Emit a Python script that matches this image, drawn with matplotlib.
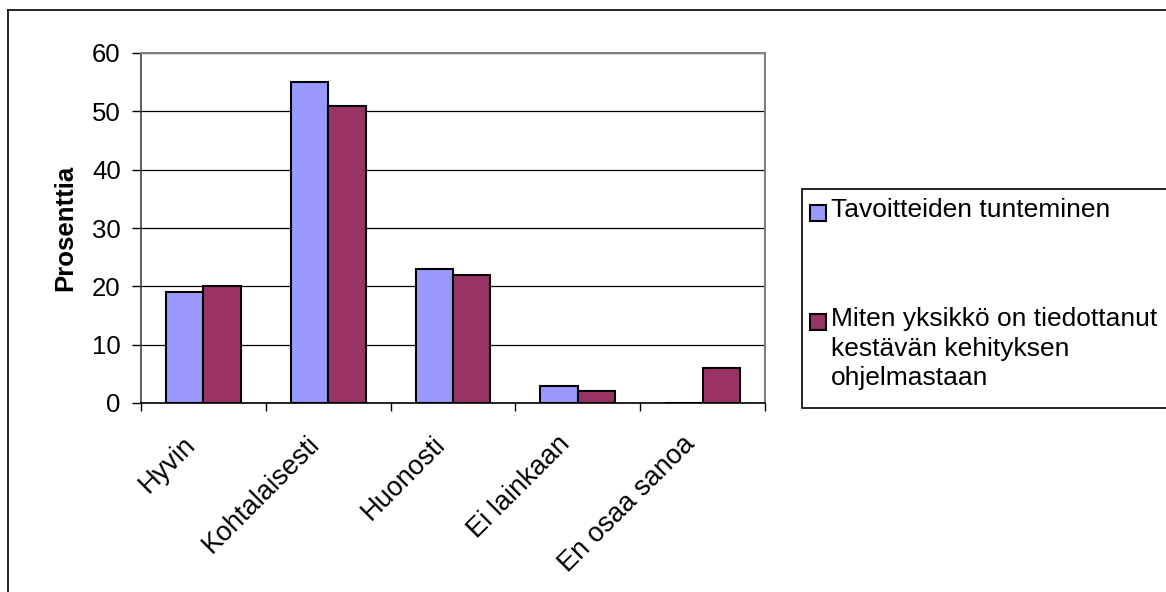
import matplotlib
matplotlib.use("Agg")
import matplotlib.pyplot as plt
from matplotlib.patches import Rectangle
from matplotlib.lines import Line2D
import matplotlib.transforms as mtransforms
import numpy as np

plt.rcParams['font.family'] = ['Liberation Sans', 'DejaVu Sans']

categories = ['Hyvin', 'Kohtalaisesti', 'Huonosti', 'Ei lainkaan', 'En osaa sanoa']
tavoitteet = [19, 55, 23, 3, 0]
tiedottanut = [20, 51, 22, 2, 6]
series_names = ['Tavoitteiden tunteminen',
                'Miten yksikkö on tiedottanut\nkestävän kehityksen\nohjelmastaan']
colors = ['#9999FF', '#993366']

W, H = 1166, 592
fig = plt.figure(figsize=(W / 100, H / 100), dpi=100)
ax = fig.add_axes([141 / W, 1 - 403 / H, (765 - 141) / W, (403 - 53) / H])

x = np.arange(len(categories))
bw = 0.3
ax.bar(x - bw / 2, tavoitteet, bw, color=colors[0], edgecolor='black', linewidth=1.5, zorder=3)
ax.bar(x + bw / 2, tiedottanut, bw, color=colors[1], edgecolor='black', linewidth=1.5, zorder=3)

ax.set_xlim(-0.5, len(categories) - 0.5)
ax.set_ylim(0, 60)
ax.set_yticks(range(0, 61, 10))
ax.yaxis.grid(True, color='black', linewidth=0.9, zorder=0)
ax.tick_params(axis='y', labelsize=18.5, length=6.5, width=1, direction='out', pad=8)

ax.set_xticks(x)
ax.set_xticks(np.arange(-0.5, len(categories)), minor=True)
ax.tick_params(axis='x', which='major', length=0, pad=14)
ax.tick_params(axis='x', which='minor', length=6, width=1, direction='out')
ax.set_xticklabels(categories, rotation=45, ha='right', va='center',
                   rotation_mode='anchor', fontsize=19.5)
offset = mtransforms.ScaledTranslation(-0.12, -0.18, fig.dpi_scale_trans)
for lbl in ax.get_xticklabels():
    lbl.set_transform(lbl.get_transform() + offset)

for s in ['top', 'right']:
    ax.spines[s].set_color('#808080')
    ax.spines[s].set_linewidth(1.5)
ax.spines['left'].set_color('#404040')
ax.spines['left'].set_linewidth(1.2)
ax.spines['bottom'].set_color('black')
ax.spines['bottom'].set_linewidth(1.2)

ax.set_ylabel('Prosenttia', fontsize=18.5, fontweight='bold', labelpad=11)

# legend box drawn in figure pixels
def fx(px):
    return px / W

def fy(py):
    return 1 - py / H

fig.patches.append(Rectangle((fx(802), fy(408)), fx(1180) - fx(802), fy(189) - fy(408),
                             transform=fig.transFigure, facecolor='white',
                             edgecolor='black', linewidth=1.2))
legend_y = [213, 322]
for name, col, yy in zip(series_names, colors, legend_y):
    fig.patches.append(Rectangle((fx(810), fy(yy + 8)), fx(16), 16 / H,
                                 transform=fig.transFigure, facecolor=col,
                                 edgecolor='black', linewidth=1.5))
    fig.text(fx(831), fy(yy - 15), name, fontsize=19, va='top', ha='left',
             linespacing=1.3)

# chart border
fig.lines.append(Line2D([fx(8), fx(8)], [0, fy(10)], transform=fig.transFigure,
                        color='black', linewidth=1.2))
fig.lines.append(Line2D([fx(8), 1], [fy(10), fy(10)], transform=fig.transFigure,
                        color='black', linewidth=1.2))

fig.savefig('out.png', dpi=100)
